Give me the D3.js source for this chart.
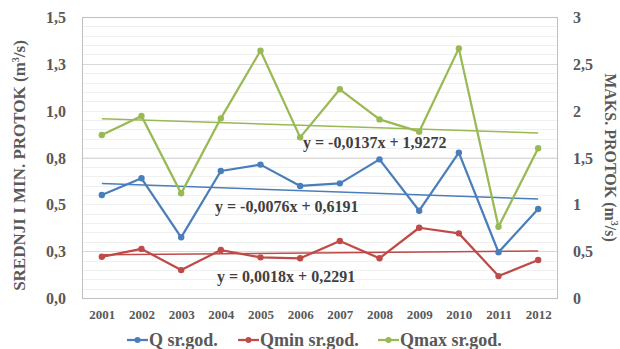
<!DOCTYPE html>
<html>
<head>
<meta charset="utf-8">
<script src="https://cdn.jsdelivr.net/npm/d3@7"></script>
<style>
  html, body { margin: 0; padding: 0; background: #fff; }
  svg { display: block; font-family: "Liberation Serif", "Times New Roman", serif; font-weight: bold; }
</style>
</head>
<body>
<svg id="chart" width="620" height="349"></svg>
<script>
// Yearly flows (m³/s)
const years = ["2001","2002","2003","2004","2005","2006","2007","2008","2009","2010","2011","2012"];
const qMean = [0.550, 0.639, 0.324, 0.678, 0.712, 0.598, 0.612, 0.740, 0.466, 0.776, 0.244, 0.475];
const qMin  = [0.220, 0.262, 0.149, 0.256, 0.217, 0.212, 0.304, 0.212, 0.375, 0.345, 0.117, 0.203];
const qMax  = [1.740, 1.943, 1.117, 1.918, 2.640, 1.715, 2.228, 1.907, 1.776, 2.665, 0.761, 1.598];

// Linear trends (x = 1..12)
const trendSlopes     = [-0.0076, 0.0018, -0.0137];
const trendIntercepts = [0.6191, 0.2291, 1.9272];
const trendLabels = ["y = -0,0076x + 0,6191", "y = 0,0018x + 0,2291", "y = -0,0137x + 1,9272"];

// Axis ticks
const leftTicks  = [0, 0.25, 0.5, 0.75, 1.0, 1.25, 1.5];
const leftTickLabels  = ["0,0", "0,3", "0,5", "0,8", "1,0", "1,3", "1,5"];
const rightTicks = [0, 0.5, 1, 1.5, 2, 2.5, 3];
const rightTickLabels = ["0", "0,5", "1", "1,5", "2", "2,5", "3"];

const seriesNames = ["Q sr.god.", "Qmin sr.god.", "Qmax sr.god."];
const colors = ["#4a7ebb", "#be4b48", "#98b954"];

const svg = d3.select("#chart");
const plot = { left: 82, right: 558, top: 17, bottom: 298 };

const x = d3.scalePoint().domain(years).range([plot.left, plot.right]).padding(0.5);
const yL = d3.scaleLinear().domain([0, 1.5]).range([plot.bottom, plot.top]);
const yR = d3.scaleLinear().domain([0, 3]).range([plot.bottom, plot.top]);

// Minor gridlines every 0.05, stronger lines at 0.25 / 0.75 / 1.25
const minor = d3.range(0.05, 1.5, 0.05);
svg.append("g").selectAll("line").data(minor).join("line")
  .attr("x1", plot.left).attr("x2", plot.right)
  .attr("y1", d => Math.round(yL(d)) + 0.5).attr("y2", d => Math.round(yL(d)) + 0.5)
  .attr("stroke", "#f0f0f0").attr("stroke-width", 1);
svg.append("g").selectAll("line").data([0.25, 0.75, 1.25]).join("line")
  .attr("x1", plot.left).attr("x2", plot.right)
  .attr("y1", d => Math.round(yL(d)) + 0.5).attr("y2", d => Math.round(yL(d)) + 0.5)
  .attr("stroke", "#d9d9d9").attr("stroke-width", 1);

// Plot frame
svg.append("rect")
  .attr("x", plot.left + 0.5).attr("y", plot.top + 0.5)
  .attr("width", plot.right - plot.left - 1).attr("height", plot.bottom - plot.top)
  .attr("fill", "none").attr("stroke", "#bfbfbf").attr("stroke-width", 1);

// Left axis labels
const textColor = "#595959";
svg.append("g").attr("transform", `translate(${plot.left - 13},0)`)
  .call(d3.axisLeft(yL).tickValues(leftTicks).tickFormat((d, i) => leftTickLabels[i]).tickSize(0))
  .call(g => g.select(".domain").remove())
  .call(g => g.selectAll("text").attr("fill", textColor).attr("font-size", 16)
    .attr("font-family", "Liberation Serif").attr("font-weight", "bold").attr("dy", "0.35em"));

// Right axis labels
svg.append("g").attr("transform", `translate(${plot.right + 15},0)`)
  .call(d3.axisRight(yR).tickValues(rightTicks).tickFormat((d, i) => rightTickLabels[i]).tickSize(0))
  .call(g => g.select(".domain").remove())
  .call(g => g.selectAll("text").attr("x", 0).attr("fill", textColor).attr("font-size", 16)
    .attr("font-family", "Liberation Serif").attr("font-weight", "bold").attr("dy", "0.35em"));

// Category labels
svg.append("g").attr("transform", `translate(0,${plot.bottom + 9})`)
  .call(d3.axisBottom(x).tickSize(0))
  .call(g => g.select(".domain").remove())
  .call(g => g.selectAll("text").attr("fill", textColor).attr("font-size", 13)
    .attr("font-family", "Liberation Serif").attr("font-weight", "bold"));

// Axis titles
const leftTitle = svg.append("text")
  .attr("transform", `translate(25,${(plot.top + plot.bottom) / 2 + 8}) rotate(-90)`)
  .attr("text-anchor", "middle").attr("fill", textColor).attr("font-size", 17);
leftTitle.append("tspan").text("SREDNJI I MIN. PROTOK (m");
leftTitle.append("tspan").attr("font-size", 10).attr("dy", -6).text("3");
leftTitle.append("tspan").attr("dy", 6).text("/s)");

const rightTitle = svg.append("text")
  .attr("transform", `translate(605,${(plot.top + plot.bottom) / 2}) rotate(90)`)
  .attr("text-anchor", "middle").attr("fill", textColor).attr("font-size", 16);
rightTitle.append("tspan").text("MAKS. PROTOK (m");
rightTitle.append("tspan").attr("font-size", 10).attr("dy", -6).text("3");
rightTitle.append("tspan").attr("dy", 6).text("/s)");

// Series
const series = [
  { values: qMean, y: yL },
  { values: qMin,  y: yL },
  { values: qMax,  y: yR }
];

// Trend lines (thin, drawn under series)
series.forEach((s, k) => {
  const ends = [1, years.length];
  svg.append("line")
    .attr("x1", x(years[0])).attr("x2", x(years[years.length - 1]))
    .attr("y1", s.y(trendIntercepts[k] + trendSlopes[k] * ends[0]))
    .attr("y2", s.y(trendIntercepts[k] + trendSlopes[k] * ends[1]))
    .attr("stroke", colors[k]).attr("stroke-width", 1.5);
});

const line = d3.line().x((d, i) => x(years[i]));
series.forEach((s, k) => {
  svg.append("path")
    .datum(s.values)
    .attr("d", line.y(d => s.y(d)))
    .attr("fill", "none").attr("stroke", colors[k]).attr("stroke-width", 2.25)
    .attr("stroke-linejoin", "round");
  svg.append("g").selectAll("circle").data(s.values).join("circle")
    .attr("cx", (d, i) => x(years[i])).attr("cy", d => s.y(d))
    .attr("r", 3.2).attr("fill", colors[k]);
});

// Trend equations
const eqPos = [[215, 212], [217, 282], [303, 148]];
trendLabels.forEach((t, k) => {
  svg.append("text").attr("x", eqPos[k][0]).attr("y", eqPos[k][1])
    .attr("fill", "#404040").attr("font-size", 16).text(t);
});

// Legend
const legend = svg.append("g");
const legendY = 340;
const itemStarts = [127, 238, 378];
seriesNames.forEach((name, k) => {
  const g = legend.append("g").attr("transform", `translate(${itemStarts[k]},${legendY})`);
  g.append("line").attr("x1", 0).attr("x2", 21).attr("y1", 0).attr("y2", 0)
    .attr("stroke", colors[k]).attr("stroke-width", 2.25);
  g.append("circle").attr("cx", 10.5).attr("cy", 0).attr("r", 3).attr("fill", colors[k]);
  g.append("text").attr("x", 22).attr("y", 0).attr("dy", "0.35em")
    .attr("fill", textColor).attr("font-size", 18).text(name);
});
</script>
</body>
</html>
